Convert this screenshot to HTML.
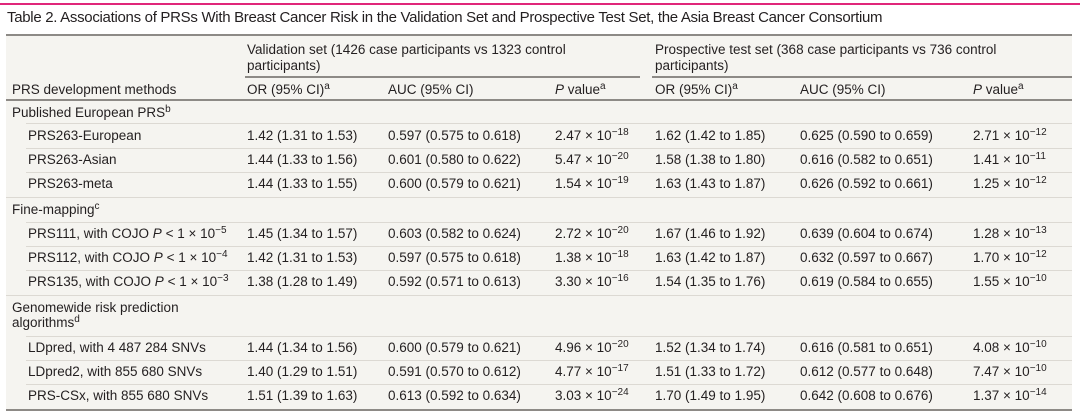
<!DOCTYPE html>
<html><head><meta charset="utf-8"><style>
*{margin:0;padding:0;box-sizing:border-box}
body{width:1080px;height:417px;background:#fff;font-family:"Liberation Sans",sans-serif;color:#231f20;position:relative;overflow:hidden}
.t{position:absolute;font-size:13.5px;white-space:nowrap;line-height:16px}
.h{position:absolute;height:1px;background:#dcd9d3}
sup{font-size:10px;vertical-align:0;position:relative;top:-5px}
i{font-style:italic}
</style></head><body>
<div style="position:absolute;left:0;top:3px;width:1080px;height:2px;background:#e0267a"></div>
<div class="t" style="left:7px;top:10px;font-size:15px;letter-spacing:-0.3px">Table 2. Associations of PRSs With Breast Cancer Risk in the Validation Set and Prospective Test Set, the Asia Breast Cancer Consortium</div>
<div style="position:absolute;left:6px;top:34px;width:1066px;height:377px;background:#f5f4f0;border-top:2px solid #8d8a86;border-bottom:2px solid #8d8a86"></div>
<div class="t" style="left:247px;top:42px">Validation set (1426 case participants vs 1323 control</div>
<div class="t" style="left:247px;top:58px">participants)</div>
<div class="t" style="left:655px;top:42px">Prospective test set (368 case participants vs 736 control</div>
<div class="t" style="left:655px;top:58px">participants)</div>
<div style="position:absolute;left:245px;top:76px;width:395px;height:2px;background:#8d8a86"></div>
<div style="position:absolute;left:652px;top:76px;width:420px;height:2px;background:#8d8a86"></div>
<div class="t" style="left:12px;top:82px">PRS development methods</div>
<div class="t" style="left:247px;top:82px">OR (95% CI)<sup>a</sup></div>
<div class="t" style="left:388px;top:82px">AUC (95% CI)</div>
<div class="t" style="left:555px;top:82px"><i>P</i> value<sup>a</sup></div>
<div class="t" style="left:655px;top:82px">OR (95% CI)<sup>a</sup></div>
<div class="t" style="left:800px;top:82px">AUC (95% CI)</div>
<div class="t" style="left:973px;top:82px"><i>P</i> value<sup>a</sup></div>
<div style="position:absolute;left:6px;top:99px;width:1066px;height:2px;background:#8d8a86"></div>

<div class="t" style="left:12px;top:105px">Published European PRS<sup>b</sup></div>
<div class="h" style="left:26px;top:123px;width:1046px"></div>
<div class="t" style="left:28px;top:128px">PRS263-European</div>
<div class="t" style="left:247px;top:128px">1.42 (1.31 to 1.53)</div><div class="t" style="left:388px;top:128px">0.597 (0.575 to 0.618)</div><div class="t" style="left:555px;top:128px">2.47 × 10<sup>−18</sup></div><div class="t" style="left:655px;top:128px">1.62 (1.42 to 1.85)</div><div class="t" style="left:800px;top:128px">0.625 (0.590 to 0.659)</div><div class="t" style="left:973px;top:128px">2.71 × 10<sup>−12</sup></div>
<div class="h" style="left:26px;top:148px;width:1046px"></div>
<div class="t" style="left:28px;top:152px">PRS263-Asian</div>
<div class="t" style="left:247px;top:152px">1.44 (1.33 to 1.56)</div><div class="t" style="left:388px;top:152px">0.601 (0.580 to 0.622)</div><div class="t" style="left:555px;top:152px">5.47 × 10<sup>−20</sup></div><div class="t" style="left:655px;top:152px">1.58 (1.38 to 1.80)</div><div class="t" style="left:800px;top:152px">0.616 (0.582 to 0.651)</div><div class="t" style="left:973px;top:152px">1.41 × 10<sup>−11</sup></div>
<div class="h" style="left:26px;top:172px;width:1046px"></div>
<div class="t" style="left:28px;top:176px">PRS263-meta</div>
<div class="t" style="left:247px;top:176px">1.44 (1.33 to 1.55)</div><div class="t" style="left:388px;top:176px">0.600 (0.579 to 0.621)</div><div class="t" style="left:555px;top:176px">1.54 × 10<sup>−19</sup></div><div class="t" style="left:655px;top:176px">1.63 (1.43 to 1.87)</div><div class="t" style="left:800px;top:176px">0.626 (0.592 to 0.661)</div><div class="t" style="left:973px;top:176px">1.25 × 10<sup>−12</sup></div>
<div class="h" style="left:6px;top:197px;width:1066px"></div>

<div class="t" style="left:12px;top:202px">Fine-mapping<sup>c</sup></div>
<div class="h" style="left:26px;top:222px;width:1046px"></div>
<div class="t" style="left:28px;top:226px">PRS111, with COJO <i>P</i> &lt; 1 × 10<sup>−5</sup></div>
<div class="t" style="left:247px;top:226px">1.45 (1.34 to 1.57)</div><div class="t" style="left:388px;top:226px">0.603 (0.582 to 0.624)</div><div class="t" style="left:555px;top:226px">2.72 × 10<sup>−20</sup></div><div class="t" style="left:655px;top:226px">1.67 (1.46 to 1.92)</div><div class="t" style="left:800px;top:226px">0.639 (0.604 to 0.674)</div><div class="t" style="left:973px;top:226px">1.28 × 10<sup>−13</sup></div>
<div class="h" style="left:26px;top:246px;width:1046px"></div>
<div class="t" style="left:28px;top:250px">PRS112, with COJO <i>P</i> &lt; 1 × 10<sup>−4</sup></div>
<div class="t" style="left:247px;top:250px">1.42 (1.31 to 1.53)</div><div class="t" style="left:388px;top:250px">0.597 (0.575 to 0.618)</div><div class="t" style="left:555px;top:250px">1.38 × 10<sup>−18</sup></div><div class="t" style="left:655px;top:250px">1.63 (1.42 to 1.87)</div><div class="t" style="left:800px;top:250px">0.632 (0.597 to 0.667)</div><div class="t" style="left:973px;top:250px">1.70 × 10<sup>−12</sup></div>
<div class="h" style="left:26px;top:270px;width:1046px"></div>
<div class="t" style="left:28px;top:274px">PRS135, with COJO <i>P</i> &lt; 1 × 10<sup>−3</sup></div>
<div class="t" style="left:247px;top:274px">1.38 (1.28 to 1.49)</div><div class="t" style="left:388px;top:274px">0.592 (0.571 to 0.613)</div><div class="t" style="left:555px;top:274px">3.30 × 10<sup>−16</sup></div><div class="t" style="left:655px;top:274px">1.54 (1.35 to 1.76)</div><div class="t" style="left:800px;top:274px">0.619 (0.584 to 0.655)</div><div class="t" style="left:973px;top:274px">1.55 × 10<sup>−10</sup></div>
<div class="h" style="left:6px;top:295px;width:1066px"></div>

<div class="t" style="left:12px;top:300px">Genomewide risk prediction</div>
<div class="t" style="left:12px;top:315px">algorithms<sup>d</sup></div>
<div class="h" style="left:26px;top:336px;width:1046px"></div>
<div class="t" style="left:28px;top:340px">LDpred, with 4 487 284 SNVs</div>
<div class="t" style="left:247px;top:340px">1.44 (1.34 to 1.56)</div><div class="t" style="left:388px;top:340px">0.600 (0.579 to 0.621)</div><div class="t" style="left:555px;top:340px">4.96 × 10<sup>−20</sup></div><div class="t" style="left:655px;top:340px">1.52 (1.34 to 1.74)</div><div class="t" style="left:800px;top:340px">0.616 (0.581 to 0.651)</div><div class="t" style="left:973px;top:340px">4.08 × 10<sup>−10</sup></div>
<div class="h" style="left:26px;top:360px;width:1046px"></div>
<div class="t" style="left:28px;top:364px">LDpred2, with 855 680 SNVs</div>
<div class="t" style="left:247px;top:364px">1.40 (1.29 to 1.51)</div><div class="t" style="left:388px;top:364px">0.591 (0.570 to 0.612)</div><div class="t" style="left:555px;top:364px">4.77 × 10<sup>−17</sup></div><div class="t" style="left:655px;top:364px">1.51 (1.33 to 1.72)</div><div class="t" style="left:800px;top:364px">0.612 (0.577 to 0.648)</div><div class="t" style="left:973px;top:364px">7.47 × 10<sup>−10</sup></div>
<div class="h" style="left:26px;top:384px;width:1046px"></div>
<div class="t" style="left:28px;top:388px">PRS-CSx, with 855 680 SNVs</div>
<div class="t" style="left:247px;top:388px">1.51 (1.39 to 1.63)</div><div class="t" style="left:388px;top:388px">0.613 (0.592 to 0.634)</div><div class="t" style="left:555px;top:388px">3.03 × 10<sup>−24</sup></div><div class="t" style="left:655px;top:388px">1.70 (1.49 to 1.95)</div><div class="t" style="left:800px;top:388px">0.642 (0.608 to 0.676)</div><div class="t" style="left:973px;top:388px">1.37 × 10<sup>−14</sup></div>
</body></html>
